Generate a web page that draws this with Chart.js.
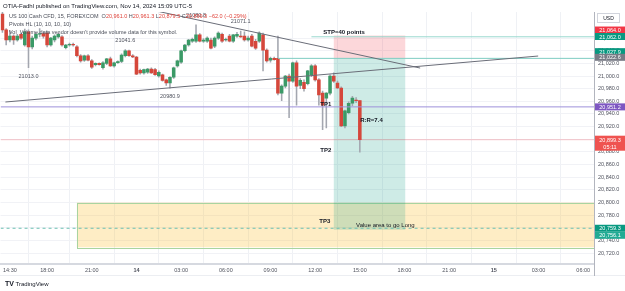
<!DOCTYPE html>
<html>
<head>
<meta charset="utf-8">
<script src="https://cdn.jsdelivr.net/npm/chart.js@4.4.1/dist/chart.umd.min.js"></script>
<style>
html, body { margin: 0; padding: 0; background: #fff; }
#wrap { position: relative; width: 625px; height: 291px; overflow: hidden; font-family: "Liberation Sans", Arial, sans-serif; }
canvas { position: absolute; left: 0; top: 0; }
.t { position: absolute; white-space: nowrap; color: #131722; line-height: 1; }
.lg { font-size: 5.5px; color: #4a4e59; }
.r { color: #e0433a; }
</style>
</head>
<body>
<div id="wrap">
    <canvas id="chart" width="625" height="291"></canvas>
    <div class="t" style="left:3px;top:3px;font-size:6px;">OTIA-Fadhl published on TradingView.com, Nov 14, 2024 15:09 UTC-5</div>
    <div class="t lg" style="left:9px;top:14px;">US 100 Cash CFD, 15, FOREXCOM&nbsp; O<span class="r">20,961.0</span> H<span class="r">20,961.3</span> L<span class="r">20,879.5</span> C<span class="r">20,899.3 −62.0 (−0.29%)</span></div>
    <div class="t lg" style="left:9px;top:22px;">Pivots HL (10, 10, 10, 10)</div>
    <div class="t lg" style="left:9px;top:30px;">Vol &nbsp;Volume data vendor doesn't provide volume data for this symbol.</div>
    <div class="t" style="left:5px;top:280px;font-size:6px;"><b style="font-size:7px;">TV</b> TradingView</div>
</div>
<script>
'use strict';

// 15 min candles, bar index 0 = 18:00 Nov 13 (daily 17:00 break skipped)
const firstBar = -12;
const opens = [
    21098, 21073, 21057, 21063, 21057, 21066, 21049, 21070, 21046, 21060,
    21066, 21067, 21068, 21049, 21057, 21062, 21062, 21045, 21049, 21050,
    21046, 21032, 21025, 21032, 21024, 21018, 21020, 21013, 21020, 21027,
    21016, 21021, 21023, 21032, 21040, 21032, 21030, 21009, 21005, 21006,
    21011, 21010, 21000, 21002, 20994, 20989, 20998, 21016, 21022, 21040,
    21049, 21055, 21055, 21065, 21055, 21055, 21057, 21047, 21060, 21066,
    21057, 21063, 21055, 21063, 21063, 21063, 21057, 21063, 21055, 21055,
    21065, 21041, 21025, 21028, 21028, 20973, 20984, 21000, 20992, 21021,
    20985, 20990, 20988, 21002, 21016, 20994, 20973, 20965, 20973, 21000,
    20989, 20981, 20921, 20942, 20957, 20962, 20961.0
];
const highs = [
    21101, 21075, 21072, 21065, 21066, 21068, 21074, 21073, 21063, 21068,
    21075, 21070, 21071, 21061, 21065, 21068, 21064, 21050, 21052, 21052,
    21048, 21034, 21033, 21034, 21026, 21021, 21021, 21023, 21028, 21030,
    21022, 21024, 21035, 21041.6, 21041, 21034, 21031, 21011, 21011, 21012,
    21013, 21012, 21008, 21003, 20995, 20999, 21014, 21025, 21041, 21050,
    21058, 21060, 21080.8, 21067, 21059, 21062, 21060, 21062, 21070, 21068,
    21060, 21066, 21066, 21069, 21071.1, 21070, 21063, 21066, 21058, 21070,
    21068, 21043, 21030, 21030, 21063, 20986, 21001, 21003, 21022, 21024,
    20996, 20994, 21009, 21018, 21018, 20996, 20976, 20974, 21002, 21005,
    20992, 20983, 20946, 20959, 20968, 20966, 20961.3
];
const lows = [
    21069, 21049, 21054, 21050, 21055, 21058, 21047, 21013, 21043, 21057,
    21062, 21060, 21046, 21047, 21054, 21060, 21047, 21043, 21047, 21047,
    21030, 21022, 21023, 21024, 21012, 21016, 21017, 21011, 21018, 21015,
    21014, 21020, 21021, 21030, 21031, 21029, 21002, 21003, 21003, 21004,
    21004, 21001, 20998, 20992, 20985, 20980.9, 20996, 21014, 21020, 21038,
    21047, 21053, 21053, 21054, 21053, 21053, 21043, 21045, 21058, 21053,
    21055, 21054, 21053, 21061, 21061, 21055, 21055, 21046, 21042, 21053,
    21008, 21022, 21022, 21025, 20970, 20961, 20981, 20934, 20990, 20954,
    20980, 20976, 20986, 20999, 20992, 20954, 20915, 20918, 20970, 20990,
    20980, 20920, 20918, 20940, 20953, 20958, 20879.5
];
const closes = [
    21073, 21057, 21063, 21057, 21063, 21060, 21070, 21046, 21060, 21066,
    21067, 21063, 21049, 21060, 21063, 21066, 21049, 21049, 21050, 21049,
    21032, 21024, 21032, 21025, 21014, 21020, 21018, 21021, 21027, 21016,
    21021, 21023, 21033, 21040, 21032, 21030, 21003, 21005, 21010, 21011,
    21005, 21002, 21006, 20993, 20989, 20998, 21013, 21024, 21040, 21049,
    21057, 21058, 21065, 21055, 21057, 21060, 21044, 21060, 21068, 21055,
    21058, 21055, 21065, 21066, 21062, 21057, 21060, 21047, 21044, 21068,
    21041, 21024, 21028, 21026, 20973, 20984, 21000, 20992, 21021, 20984,
    20993, 20980, 21008, 21016, 20994, 20970, 20954, 20973, 21000, 20992,
    20981, 20921, 20945, 20957, 20965, 20961, 20899.3
];

// axes
const timeTickBars = [-10, 0, 12, 24, 36, 48, 60, 72, 84, 96, 108, 120, 132, 144];
const timeTickLabels = ['14:30', '18:00', '21:00', '14', '03:00', '06:00', '09:00', '12:00', '15:00', '18:00', '21:00', '15', '03:00', '06:00'];
const priceTicks = [20720, 20740, 20760, 20780, 20800, 20820, 20840, 20860, 20880, 20900,
    20920, 20940, 20960, 20980, 21000, 21020, 21040, 21060];
const barMin = -12.5, barMax = 146.9;
const priceMin = 20702.8, priceMax = 21101.2;

// drawings
const trendDownBars = [28.0, 100.2];
const trendDownPrices = [21104.5, 21012.6];
const trendUpBars = [-11.2, 131.9];
const trendUpPrices = [20958.9, 21031.6];
const tp1Price = 20951.2;
const lastPrice = 20899.3;
const entryPrice = 21027.9;
const entryLineStart = 62;
const stopPrice = 21064.0;
const stopLinePrice = 21062.0;
const stopLineStart = 71;
const targetPrice = 20757.0;
const positionBars = [77, 96.2];
const valueAreaTop = 20800.0;
const valueAreaBottom = 20729.2;
const valueAreaStart = 8;
const valueLinePrice = 20759.3;

// pivot labels
const pivotBars = [-5, 21, 33, 40, 52];
const pivotValues = [21013.0, 21041.6, 20980.9, 21080.8, 21071.1];
const pivotIsHigh = [false, true, false, true, true];

// text notes
const noteTexts = ['STP=40 points', 'TP1', 'TP2', 'TP3', 'R:R=7.4', 'Value area to go Long'];
const noteBars = [74.2, 73.4, 73.4, 73.1, 84.1, 83];
const notePrices = [21069.6, 20955.7, 20883.0, 20769.6, 20930.4, 20764.4];

// price axis badges
const badgeValues = [21064.0, 21062.0, 21027.9, 21022.6, 20951.2, 20899.3, 20759.3, 20756.1];
const badgeColors = ['#f23645', '#089981', '#089981', '#787b86', '#7e57c2', '#ef5350', '#089981', '#22ab94'];
const badgeShift = [-5.5, -0.3, -6.7, -4.4, 0, 0, 0, 5];

const upColor = '#3b9a67';
const downColor = '#d5473b';
const wickColor = '#a3a6af';
const FONT = '"Liberation Sans", Arial, sans-serif';

let candleColors = opens.map((o, i) => closes[i] >= o ? upColor : downColor);
let bodies = opens.map((o, i) => ({ x: firstBar + i, y: [o, closes[i]] }));
let wicks = opens.map((o, i) => ({ x: firstBar + i, y: [lows[i], highs[i]] }));

function seg (bars, prices) {
    return bars.map((b, i) => ({ x: b, y: prices[i] }));
}

function lineSet (data, color, dash) {
    return {
        type: 'line',
        data: data,
        borderColor: color,
        borderWidth: 1,
        borderDash: dash || [],
        pointRadius: 0,
        tension: 0,
        order: 0
    };
}

function badge (ctx, x0, w, yc, color, lines) {
    let h = lines.length > 1 ? 15 : 7;
    ctx.fillStyle = color;
    ctx.fillRect(x0, yc - h / 2, w, h);
    ctx.fillStyle = '#fff';
    ctx.font = `5.5px ${FONT}`;
    ctx.textAlign = 'center';
    ctx.textBaseline = 'middle';
    lines.forEach((t, i) => {
        ctx.fillText(t, x0 + w / 2, yc - (lines.length - 1) * 3.5 + i * 7 + 0.5);
    });
}

const overlay = {
    id: 'overlay',
    beforeDatasetsDraw (chart) {
        const ctx = chart.ctx;
        const xs = chart.scales.x, ys = chart.scales.y;
        const area = chart.chartArea;
        ctx.save();
        ctx.beginPath();
        ctx.rect(area.left, area.top, area.right - area.left, area.bottom - area.top);
        ctx.clip();

        // value area box
        let vx0 = xs.getPixelForValue(valueAreaStart);
        let vx1 = xs.getPixelForValue(barMax) + 2;
        let vy0 = ys.getPixelForValue(valueAreaTop);
        let vy1 = ys.getPixelForValue(valueAreaBottom);
        ctx.fillStyle = 'rgba(251,192,45,0.28)';
        ctx.fillRect(vx0, vy0, vx1 - vx0, vy1 - vy0);
        ctx.strokeStyle = '#a8d4a0';
        ctx.lineWidth = 1;
        ctx.strokeRect(Math.round(vx0) + 0.5, Math.round(vy0) + 0.5, vx1 - vx0, Math.round(vy1 - vy0));

        // position tool
        let px0 = xs.getPixelForValue(positionBars[0]);
        let px1 = xs.getPixelForValue(positionBars[1]);
        let yStop = ys.getPixelForValue(stopPrice);
        let yEntry = ys.getPixelForValue(entryPrice);
        let yTarget = ys.getPixelForValue(targetPrice);
        ctx.fillStyle = 'rgba(242,54,69,0.2)';
        ctx.fillRect(px0, yStop, px1 - px0, yEntry - yStop);
        ctx.fillStyle = 'rgba(8,153,129,0.2)';
        ctx.fillRect(px0, yEntry, px1 - px0, yTarget - yEntry);
        ctx.restore();
    },
    afterDatasetsDraw (chart) {
        const ctx = chart.ctx;
        const xs = chart.scales.x, ys = chart.scales.y;
        ctx.save();
        ctx.textBaseline = 'middle';

        // pivot labels
        ctx.font = `5.5px ${FONT}`;
        ctx.fillStyle = '#50535e';
        ctx.textAlign = 'center';
        pivotBars.forEach((b, i) => {
            let y = ys.getPixelForValue(pivotValues[i]) + (pivotIsHigh[i] ? -9.5 : 8.5);
            ctx.fillText(pivotValues[i].toFixed(1), xs.getPixelForValue(b), y);
        });

        // notes
        ctx.textAlign = 'left';
        ctx.fillStyle = '#131722';
        noteTexts.forEach((t, i) => {
            ctx.font = (i === 5 ? '' : 'bold ') + `6px ${FONT}`;
            ctx.fillText(t, xs.getPixelForValue(noteBars[i]), ys.getPixelForValue(notePrices[i]));
        });
        ctx.restore();
    },
    afterDraw (chart) {
        const ctx = chart.ctx;
        const ys = chart.scales.y;
        const area = chart.chartArea;
        ctx.save();

        // pane borders
        ctx.fillStyle = '#d6d9e0';
        ctx.fillRect(0, area.bottom - 1, area.right, 2);
        ctx.fillStyle = '#eceef2';
        ctx.fillRect(0, area.bottom + 11, 625, 1);
        ctx.fillStyle = '#b2b5be';
        ctx.fillRect(area.right, area.top, 1, area.bottom + 12 - area.top);

        // currency box
        ctx.strokeStyle = '#d1d4dc';
        ctx.lineWidth = 1;
        ctx.fillStyle = '#fff';
        ctx.fillRect(area.right + 3, area.top + 1, 22, 9);
        ctx.strokeRect(area.right + 3.5, area.top + 1.5, 22, 9);
        ctx.fillStyle = '#131722';
        ctx.font = `5px ${FONT}`;
        ctx.textAlign = 'center';
        ctx.textBaseline = 'middle';
        ctx.fillText('USD', area.right + 14.5, area.top + 6.5);

        // price badges
        badgeValues.forEach((v, i) => {
            let y = ys.getPixelForValue(v) + badgeShift[i];
            let lines = [v.toLocaleString('en-US', { minimumFractionDigits: 1, maximumFractionDigits: 1 })];
            if (v === lastPrice) {
                lines.push('05:11');
                y += 3.5;
            }
            badge(ctx, area.right + 1, 30, y, badgeColors[i], lines);
        });
        ctx.restore();
    }
};

new Chart(document.querySelector('canvas#chart'), {
    type: 'bar',
    data: {
        datasets: [
            lineSet(seg(trendDownBars, trendDownPrices), '#6a6d78'),
            lineSet(seg(trendUpBars, trendUpPrices), '#6a6d78'),
            lineSet(seg([barMin, barMax], [tp1Price, tp1Price]), '#9d91da'),
            lineSet(seg([barMin, barMax], [lastPrice, lastPrice]), 'rgba(242,54,69,0.28)'),
            lineSet(seg([entryLineStart, barMax], [entryPrice, entryPrice]), '#7fcdc2'),
            lineSet(seg([stopLineStart, barMax], [stopLinePrice, stopLinePrice]), '#9ad8cf'),
            lineSet(seg([barMin, barMax], [valueLinePrice, valueLinePrice]), '#6cc0b2', [3, 3]),
            {
                label: 'bodies',
                data: bodies,
                backgroundColor: candleColors,
                barThickness: 2.9,
                grouped: false,
                order: 1
            },
            {
                label: 'wicks',
                data: wicks,
                backgroundColor: wickColor,
                barThickness: 0.9,
                grouped: false,
                order: 2
            }
        ]
    },
    options: {
        responsive: false,
        animation: false,
        layout: {
            padding: { top: 12, left: 0, right: 0, bottom: 0 }
        },
        plugins: {
            legend: { display: false },
            tooltip: { enabled: false }
        },
        scales: {
            x: {
                type: 'linear',
                min: barMin,
                max: barMax,
                offset: false,
                afterFit: (s) => { s.height = 27; },
                afterBuildTicks: (axis) => {
                    axis.ticks = timeTickBars.map(v => ({ value: v }));
                },
                grid: { color: '#eff1f5', drawTicks: false },
                border: { display: false },
                ticks: {
                    autoSkip: false,
                    maxRotation: 0,
                    padding: 3,
                    color: '#50535e',
                    font: (c) => ({
                        size: 5.5,
                        family: FONT,
                        weight: (c.index === 3 || c.index === 11) ? 'bold' : 'normal'
                    }),
                    callback: (value, index) => timeTickLabels[index]
                }
            },
            y: {
                position: 'right',
                min: priceMin,
                max: priceMax,
                afterFit: (s) => { s.width = 31; },
                afterBuildTicks: (axis) => {
                    axis.ticks = priceTicks.map(v => ({ value: v }));
                },
                grid: { color: '#f1f2f6', drawTicks: false },
                border: { display: false },
                ticks: {
                    padding: 4,
                    color: '#50535e',
                    font: { size: 5.5, family: FONT },
                    callback: (value) => value.toLocaleString('en-US', { minimumFractionDigits: 1, maximumFractionDigits: 1 })
                }
            }
        }
    },
    plugins: [overlay]
});
</script>
</body>
</html>
